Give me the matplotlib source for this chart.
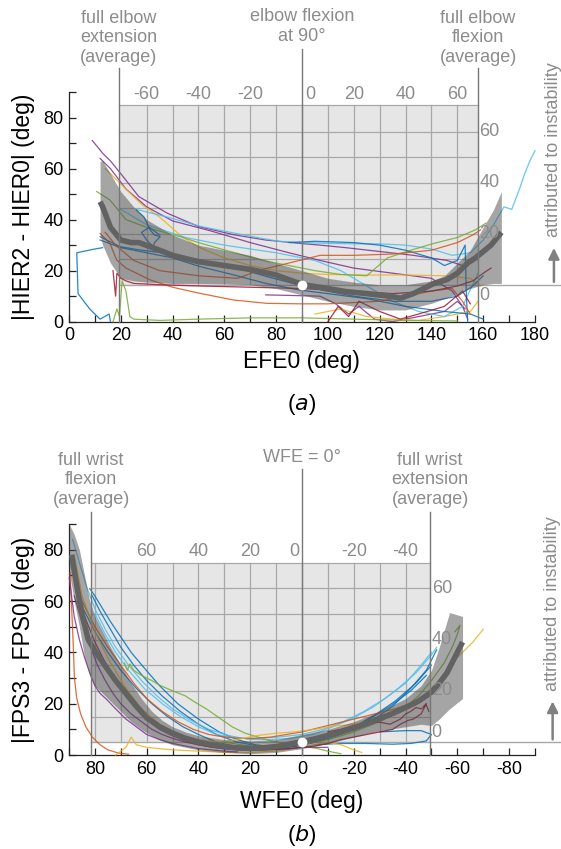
import matplotlib.pyplot as plt
import numpy as np

plt.rcParams['font.family'] = ['Liberation Sans', 'DejaVu Sans']

BLUE = (0, 0.447, 0.741)
ORANGE = (0.85, 0.325, 0.098)
YELLOW = (0.929, 0.694, 0.125)
PURPLE = (0.494, 0.184, 0.556)
GREEN = (0.466, 0.674, 0.188)
CYAN = (0.301, 0.745, 0.933)
RED = (0.635, 0.078, 0.184)

# ---------------- panel (a): elbow ----------------
a_mean_x = [12, 13, 16, 20, 24, 27, 31, 35, 40, 50, 60, 70, 80, 87, 91, 100, 107, 115, 119, 124, 128,
            133, 137, 141, 146, 150, 154, 157, 160, 163, 167]
a_mean_y = [47, 45, 37, 32, 31, 31, 29.5, 28, 26, 23.5, 22, 20.5, 18.3, 15.7, 14.4, 13, 11.8, 11, 10.5,
            10, 9.2, 11, 13, 15, 16.5, 19, 23, 25, 27.5, 30, 35]
a_band_x = [12, 13, 16, 20, 25, 30, 40, 50, 60, 70, 80, 90, 100, 110, 120, 130, 140, 145, 150, 155, 160,
            164, 167]
a_band_hi = [63, 63, 58, 51, 45, 40, 34, 30, 28, 26, 23, 20, 17, 15.5, 14.5, 14.5, 16, 18, 23, 28, 37, 44, 51]
a_band_lo = [34, 30, 23, 17, 16, 15.5, 15, 15, 14.8, 14.5, 13, 10.5, 8, 6, 4.6, 4.6, 7.2, 9, 11, 13, 14.5,
             15, 15]

a_purple1_x = [9, 13, 16, 20, 27, 38, 50, 64, 76, 89, 97, 107, 120, 133, 146, 152]
a_purple1_y = [71, 66, 63, 58, 49, 42.5, 37.3, 34, 32, 30.7, 30, 29, 27.5, 26, 24, 22]
a_purple2_x = [12, 16, 22, 30, 40, 55, 70, 85, 97, 110, 125, 140, 148, 152, 154]
a_purple2_y = [64, 60, 52, 45, 39.5, 35.5, 31, 27, 24, 21, 19, 17, 12, 6, 1]
a_purple3_x = [76, 85, 97, 103, 108, 112, 118, 125, 135, 145, 150, 153]
a_purple3_y = [10.5, 10.3, 10, 7, 3, 6, 1, 0, 2, 4, 8, 5]
a_yellow1_x = [14, 18, 22, 28, 35, 44, 51, 60, 70, 80, 90, 100, 115, 130, 145, 155, 159]
a_yellow1_y = [60, 56, 52, 46, 41, 33, 28.8, 25, 22, 20, 19, 18.5, 18.3, 18.3, 18, 17, 14]
a_yellow2_x = [95, 105, 115, 125, 135, 145, 155, 158]
a_yellow2_y = [3, 5, 2, 1, 0.5, 2, 4, 8]
a_cyan1_x = [26, 32, 38, 45, 51, 60, 70, 81, 90, 100, 110, 120, 130, 140, 148, 155, 160, 164, 168, 171,
             174, 176, 178, 180]
a_cyan1_y = [44, 42.5, 41, 39, 37.3, 35.5, 33.5, 31.5, 31, 30.7, 30.5, 30.5, 30, 28.5, 26, 27, 32, 38, 45,
             44, 52, 58, 63, 67]
a_cyan2_x = [20, 30, 45, 60, 80, 95, 105, 115, 125, 135, 145, 152, 158]
a_cyan2_y = [44, 38, 33, 30, 27, 24, 20, 14, 8, 4, 2, 6, 19]
a_green1_x = [10.7, 15.8, 22, 31, 43, 51, 64, 75, 85, 95, 105, 115, 123, 132, 141, 150, 157, 161]
a_green1_y = [51, 47.7, 40, 36.6, 33.3, 30.7, 27, 24, 22, 20, 18.5, 18, 25, 28, 30.7, 33, 36, 38.6]
a_green2_x = [17, 18.5, 19.5, 20.5, 22, 23.5, 25, 35, 50, 70, 90, 110, 130, 150]
a_green2_y = [0, 5, 2, 16, 12, 2, 1, 0.5, 1, 1.5, 1.5, 1, 0.5, 0.3]
a_blue1_x = [12, 19.7, 27.4, 37.7, 50.6, 63.5, 76.3, 86.6, 97, 110, 125, 140, 150, 156, 160]
a_blue1_y = [33.3, 29.4, 28.1, 26.8, 24.2, 21.6, 17.7, 15, 12.5, 10, 8, 8, 10, 14, 18]
a_blue2_x = [12, 20, 30, 40, 50.6, 63, 76, 89, 100, 115, 130, 145, 155, 160]
a_blue2_y = [32, 29, 27, 25, 21.6, 18.5, 15, 12.4, 11, 9, 6, 4, 3, 1]
a_blue3_x = [26, 29, 31.3, 33, 35.2, 33, 32.6, 30, 28, 31, 35]
a_blue3_y = [43.8, 41, 36, 34, 33.3, 31, 29.4, 32, 35, 37, 34]
a_blue4_x = [13, 10, 3, 3.5, 8, 12, 15.5, 16]
a_blue4_y = [29, 28.5, 27, 11, 5, 1, 3, 0]
a_blue5_x = [85, 95, 110, 120, 130, 140, 145, 150, 153, 153.5, 154]
a_blue5_y = [31, 31.5, 31, 30, 28, 25, 22, 24, 30, 10, 0]
a_orange1_x = [12, 15.8, 18.4, 22, 31.3, 40, 50.6, 63.5, 76.3, 89, 100, 110, 120, 130, 140, 148, 152, 155]
a_orange1_y = [34.6, 30.7, 24.2, 21, 16.4, 13.5, 11.1, 8.5, 7.2, 7, 7, 7.5, 8, 10, 12, 13, 8, 3]
a_orange2_x = [14, 18, 25, 35, 50, 65, 74, 85, 97, 110, 125, 140, 150, 156, 159]
a_orange2_y = [35, 30, 24, 20, 18, 17, 20.3, 23, 26, 26, 26.5, 28, 31, 34, 36]
a_red1_x = [17, 18, 18.5, 20, 22, 25, 35, 50, 70, 90, 110, 125, 140, 150, 156, 160, 163]
a_red1_y = [20, 10, 19, 17, 16, 15, 14.5, 14, 13.5, 13, 12, 11, 12, 14, 16, 19, 21]
a_red2_x = [100, 104, 108, 112, 120, 128, 135, 145, 152, 155]
a_red2_y = [0, 6, 2, 8, 4, 1, 3, 6, 12, 7]

# ---------------- panel (b): wrist ----------------
b_mean_x = [89, 87, 85, 82.6, 79, 75.5, 72, 68, 64, 60, 55, 50, 45, 40, 35, 30, 25, 20, 15, 10, 5, 0, -5,
            -10, -15, -20, -25, -30, -35, -40, -45, -50, -53, -56, -59, -62]
b_mean_y = [78, 66, 55, 45, 39, 34, 29, 24, 19, 14.5, 11, 8.5, 6.5, 5, 4, 3.2, 2.8, 2.6, 2.8, 3.3, 4.2,
            5.2, 6.3, 7.6, 9, 10.5, 12.3, 14.2, 16.2, 18.5, 21, 24.5, 28, 32, 38, 44]
b_band_x = [90, 88, 86, 84, 82, 80, 77, 74, 70, 66, 62, 58, 54, 50, 45, 40, 30, 20, 10, 0, -10, -20, -30,
            -40, -46, -50, -53, -57, -62]
b_band_hi = [90, 86, 80, 70, 60, 54, 48, 42, 35, 28, 22, 17, 13.5, 11, 9, 7.5, 6, 5.5, 6, 8, 10, 13, 17,
             22, 27, 33, 42, 55.5, 54]
b_band_lo = [72, 60, 50, 38, 31, 27, 24, 21, 17, 13, 10, 7.5, 5.5, 4, 3, 2, 1, 0.5, 1, 2.5, 4.5, 7, 9.5,
             11, 12, 11.5, 14, 18, 22]

b_blue1_x = [82, 80, 77, 74, 70, 66, 61, 55, 48, 40, 32, 25, 18, 10, 3, -5, -12, -20, -28, -35, -42, -48,
             -52]
b_blue1_y = [64.8, 62, 57, 52, 46, 40, 34, 27, 20, 14, 9, 6, 4, 3, 3.5, 5, 7, 10, 14, 19, 26, 33, 41]
b_blue2_x = [81, 78, 74, 70, 65, 60, 54, 47, 40, 33, 25, 17, 10, 2, -5, -12, -20, -28, -36, -44, -50]
b_blue2_y = [62, 56, 49, 42, 35, 29, 23, 17, 12, 8, 5, 3.5, 3, 3.5, 5, 7.5, 11, 15.5, 21, 28, 35]
b_blue3_x = [85, 80, 75, 70, 64, 58, 52, 46, 40, 33, 26, 19, 12, 5, -2, -10, -18, -26, -34, -42, -48]
b_blue3_y = [58, 48, 40, 33, 26, 20, 15, 11, 8, 5, 3.5, 2.5, 2.5, 3, 4.5, 7, 10, 14, 19, 25, 31]
b_blue4_x = [-5, -15, -25, -35, -42, -48, -50, -46, -40, -30]
b_blue4_y = [4, 4.5, 4.5, 4.2, 4.5, 5.5, 8, 9.5, 9.5, 9]
b_cyan1_x = [88.6, 86, 83, 80, 76, 72, 67, 62, 56, 50, 43, 36, 28, 20, 12, 4, -4, -12, -20, -28, -36, -44,
             -50, -52]
b_cyan1_y = [84, 75, 65, 57, 49, 42, 35, 29, 23, 18, 13.5, 10, 7.5, 6, 6, 6.5, 8, 11, 14.5, 19, 25, 32, 39,
             42]
b_cyan2_x = [80, 76, 72, 67, 61, 54, 47, 40, 33, 25, 17, 9, 0, -8, -16, -24, -32, -40, -46, -50]
b_cyan2_y = [55, 47, 40, 33, 26, 20, 15, 11, 8, 6.5, 6.5, 7, 8, 10, 13, 17, 22, 28, 35, 40]
b_green1_x = [68.6, 67.5, 66.5, 65, 62, 58, 55, 50, 45, 42, 37, 32, 27, 22, 17, 12, 6, 0, -6, -10, -15]
b_green1_y = [35.8, 33, 35.5, 33, 31, 29, 27.2, 25, 23, 21, 18, 14.5, 11, 8.5, 7, 5.5, 4.5, 3.5, 2.5, 1.5,
              0.5]
b_green2_x = [30, 20, 10, 0, -10, -20, -30, -38, -45, -50, -55, -58, -60, -61, -59]
b_green2_y = [5, 3.5, 3, 4, 6, 9, 13, 17, 23, 29, 36, 42, 47, 50.5, 48]
b_orange1_x = [89.6, 89, 88.4, 87.9, 87, 85.5, 83.5, 81, 78, 75, 71, 67]
b_orange1_y = [71, 58, 44, 30, 22, 16, 11, 7, 4, 2, 0.8, 0.3]
b_orange2_x = [85, 80, 75, 70, 65, 60, 54, 48, 42, 36, 30, 24, 18, 12, 6, 0, -6, -12, -18, -24, -30, -36,
               -42, -46]
b_orange2_y = [60, 50, 42, 35, 28, 22, 17, 13, 10, 8, 7, 6.5, 6.5, 7, 8, 9, 10.5, 12, 13.5, 15, 16.5, 18,
               20, 22]
b_yellow1_x = [88, 85, 80, 74, 68, 62, 55, 48, 40, 32, 25, 18, 10, 3, -5, -10, -15, -20, -25, -30, -36,
               -42, -48, -54, -58, -62, -66, -70]
b_yellow1_y = [78, 62, 48, 36, 26, 18, 12, 8, 6, 5, 6, 7.5, 8.5, 9, 10, 11, 11.5, 12, 13, 14, 16, 19, 24,
               30, 36, 40, 44, 49]
b_yellow2_x = [72, 68, 66, 64, 60, 55, 50, 40, 30, 20, 10, 0, -10, -15, -20, -23]
b_yellow2_y = [0, 3, 7, 4, 3, 2.5, 2, 1.5, 1, 1, 1.5, 3, 5, 4, 2, 1]
b_purple1_x = [89.9, 89, 88, 86, 84, 82, 80, 78, 75.4, 72, 68, 64, 60, 55, 50, 45, 40, 35, 30, 25]
b_purple1_y = [69, 62, 54, 45, 38, 32, 27, 24, 21.6, 18, 14, 11, 8, 6, 4.5, 3.5, 2.5, 2, 1.5, 1.2]
b_purple2_x = [88, 85, 82, 79, 76, 73, 70, 66, 62, 58, 54, 50, 45, 40, 35, 30, 25, 20, 15, 10, 5, 0, -5,
               -10]
b_purple2_y = [62, 52, 43, 35, 29, 24, 20, 16, 13, 10, 8, 6.5, 5, 4, 3.2, 2.6, 2.2, 2, 2, 2.2, 2.5, 3, 3, 3]
b_red1_x = [87, 84, 80, 76, 72, 68, 64, 60, 55, 50, 45, 40, 35, 30, 25, 20, 15, 10, 5, 0, -5, -10, -15,
            -20, -25, -30, -35, -38, -41, -43, -46, -48, -47]
b_red1_y = [68, 54, 44, 36, 29, 23, 18, 14, 10, 7.5, 5.5, 4, 3, 2.5, 2, 2, 2, 2.2, 2.5, 3, 3.5, 4.5, 6, 7,
            8, 9, 10, 12, 13.5, 14, 16, 20, 19]
b_red2_x = [-10, -15, -20, -25, -30, -34, -38, -40, -42, -44, -46, -48, -49]
b_red2_y = [9, 10, 11.5, 12.5, 12.8, 12, 14, 16, 17, 18.5, 18, 19.5, 17]

a_curves = [(a_purple1_x, a_purple1_y, PURPLE), (a_purple2_x, a_purple2_y, PURPLE),
            (a_purple3_x, a_purple3_y, PURPLE), (a_yellow1_x, a_yellow1_y, YELLOW),
            (a_yellow2_x, a_yellow2_y, YELLOW), (a_cyan1_x, a_cyan1_y, CYAN), (a_cyan2_x, a_cyan2_y, CYAN),
            (a_green1_x, a_green1_y, GREEN), (a_green2_x, a_green2_y, GREEN), (a_blue1_x, a_blue1_y, BLUE),
            (a_blue2_x, a_blue2_y, BLUE), (a_blue3_x, a_blue3_y, BLUE), (a_blue4_x, a_blue4_y, BLUE),
            (a_blue5_x, a_blue5_y, BLUE), (a_orange1_x, a_orange1_y, ORANGE),
            (a_orange2_x, a_orange2_y, ORANGE), (a_red1_x, a_red1_y, RED), (a_red2_x, a_red2_y, RED)]
b_curves = [(b_blue1_x, b_blue1_y, BLUE), (b_blue2_x, b_blue2_y, BLUE), (b_blue3_x, b_blue3_y, BLUE),
            (b_blue4_x, b_blue4_y, BLUE), (b_cyan1_x, b_cyan1_y, CYAN), (b_cyan2_x, b_cyan2_y, CYAN),
            (b_green1_x, b_green1_y, GREEN), (b_green2_x, b_green2_y, GREEN),
            (b_orange1_x, b_orange1_y, ORANGE), (b_orange2_x, b_orange2_y, ORANGE),
            (b_yellow1_x, b_yellow1_y, YELLOW), (b_yellow2_x, b_yellow2_y, YELLOW),
            (b_purple1_x, b_purple1_y, PURPLE), (b_purple2_x, b_purple2_y, PURPLE),
            (b_red1_x, b_red1_y, RED), (b_red2_x, b_red2_y, RED)]

GREY_TXT = '#8c8c8c'
GREY_LINE = '#777777'


def draw_panel(ax, curves, bx, blo, bhi, mx, my, box, base, top, ref, sign, xlab_vals, ylab_vals,
               grid_x, notes, arrow_x, arrow_top, fig_right):
    left, right = box
    # gridded box
    ax.fill_between([left, right], base, top, color='#e6e6e6', zorder=0, lw=0)
    for gx in grid_x:
        ax.plot([gx, gx], [base, top], color='#a8a8a8', lw=0.9, zorder=1)
    for gy in np.arange(base + 10, top - 1, 10):
        ax.plot([left, right], [gy, gy], color='#a8a8a8', lw=0.9, zorder=1)
    ax.plot([left, right], [top, top], color='#a8a8a8', lw=0.9, zorder=1)
    ax.plot([left, fig_right], [base, base], color='#a8a8a8', lw=1.0, zorder=1, clip_on=False)
    # secondary (relative) labels
    for v in xlab_vals:
        xx = ref + v
        ha = 'center'
        if v == 0:
            ha = 'left' if sign > 0 else 'right'
            xx = ref + 1.2
        ax.text(xx, top + 0.8, str(v), color=GREY_TXT, fontsize=13, ha=ha, va='bottom', zorder=8)
    for v in ylab_vals:
        va = 'center'
        yy = base + v
        if v == 0:
            va = 'top' if sign > 0 else 'bottom'
            yy = base - 1 if sign > 0 else base + 0.5
        ax.text(right + sign * 0.6, yy, str(v), color=GREY_TXT, fontsize=13, ha='left', va=va, zorder=8)
    # individual curves
    for cx, cy, col in curves:
        ax.plot(cx, cy, color=col, lw=0.9, alpha=0.85, zorder=3, clip_on=False)
    # band + mean
    ax.fill_between(bx, blo, bhi, color='#4d4d4d', alpha=0.5, lw=0, zorder=4)
    ax.plot(mx, my, color='#626262', lw=4, zorder=5, solid_capstyle='butt')
    ax.plot(ref, base, 'o', color='white', ms=7, mec='none', zorder=9)
    # annotation lines and text
    for (lx, ltop, txt, ty) in notes:
        ax.plot([lx, lx], [0, ltop], color=GREY_LINE, lw=1.0, zorder=6, clip_on=False)
        ax.text(lx, ty, txt, color=GREY_TXT, fontsize=13, ha='center', va='center',
                linespacing=1.2, clip_on=False)
    ax.annotate('', xy=(arrow_x, arrow_top), xytext=(arrow_x, base), annotation_clip=False,
                arrowprops=dict(arrowstyle='-|>', color='#808080', lw=1.8, mutation_scale=16))
    ax.text(arrow_x, arrow_top + 3, 'attributed to instability', color=GREY_TXT, fontsize=13,
            rotation=90, ha='center', va='bottom', clip_on=False)
    for s in ['top', 'right']:
        ax.spines[s].set_visible(False)
    for s in ['left', 'bottom']:
        ax.spines[s].set_linewidth(0.9)
        ax.spines[s].set_color('#222222')
    ax.tick_params(direction='in', length=5, width=0.9, labelsize=13, color='#222222', pad=4)
    ax.set_ylim(0, 90)
    ax.set_yticks(np.arange(0, 91, 10))
    ax.set_yticklabels(['%d' % v if v % 20 == 0 else '' for v in range(0, 91, 10)])


fig = plt.figure(figsize=(5.61, 8.49), dpi=100)
axa = fig.add_axes([0.123, 0.6211, 0.8307, 0.2705])
axb = fig.add_axes([0.123, 0.1107, 0.8307, 0.2721])

draw_panel(axa, a_curves, a_band_x, a_band_lo, a_band_hi, a_mean_x, a_mean_y, (19.3, 158), 14.5, 85,
           90, 1, [-60, -40, -20, 0, 20, 40, 60], [0, 20, 40, 60], np.arange(30, 151, 10),
           [(19.3, 99.5, 'full elbow\nextension\n(average)', 111.3),
            (90, 107, 'elbow flexion\nat 90°', 115.6),
            (158, 99.5, 'full elbow\nflexion\n(average)', 111.3)],
           187.3, 30, 190)
axa.set_xlim(0, 180)
axa.set_xticks(np.arange(0, 181, 10))
axa.set_xticklabels(['%d' % v if v % 20 == 0 else '' for v in range(0, 181, 10)])

draw_panel(axb, b_curves, b_band_x, b_band_lo, b_band_hi, b_mean_x, b_mean_y, (81.5, -49.5), 5, 75,
           0, -1, [60, 40, 20, 0, -20, -40], [0, 20, 40, 60], np.arange(80, -41, -10),
           [(81.5, 94.5, 'full wrist\nflexion\n(average)', 107.2),
            (0, 111.5, 'WFE = 0°', 115.8),
            (-49.5, 94.5, 'full wrist\nextension\n(average)', 107.2)],
           -96.8, 22, -100)
axb.set_xlim(90, -90)
axb.set_xticks(np.arange(90, -91, -10))
axb.set_xticklabels(['%d' % v if v % 20 == 0 else '' for v in range(90, -91, -10)])

fig.text(0.041, 0.7563, '|HIER2 - HIER0| (deg)', rotation=90, ha='center', va='center', fontsize=16.5)
fig.text(0.041, 0.2468, '|FPS3 - FPS0| (deg)', rotation=90, ha='center', va='center', fontsize=16.5)
fig.text(0.538, 1 - 362 / 849, 'EFE0 (deg)', ha='center', va='center', fontsize=16.5)
fig.text(0.538, 1 - 801.7 / 849, 'WFE0 (deg)', ha='center', va='center', fontsize=16.5)
fig.text(0.538, 1 - 404 / 849, '(' + r'$\it{a}$' + ')', ha='center', va='center', fontsize=16)
fig.text(0.538, 1 - 835.7 / 849, '(' + r'$\it{b}$' + ')', ha='center', va='center', fontsize=16)

fig.savefig('out.png', dpi=100)
